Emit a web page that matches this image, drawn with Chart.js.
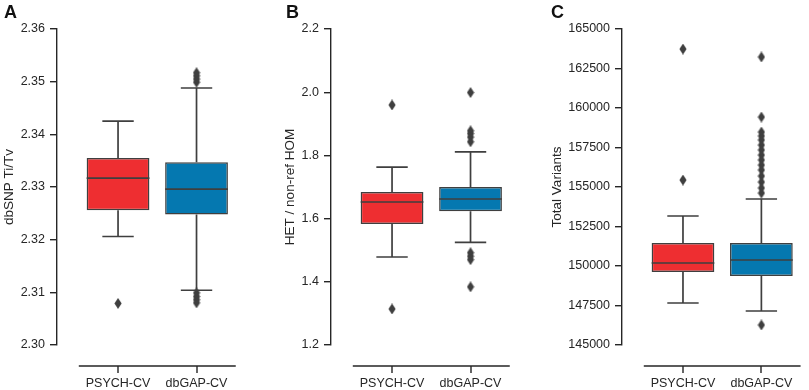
<!DOCTYPE html>
<html><head><meta charset="utf-8">
<script src="https://cdn.jsdelivr.net/npm/chart.js@4.4.1/dist/chart.umd.min.js"></script>
<style>
html,body{margin:0;padding:0;background:#fff;overflow:hidden;width:809px;height:390px;}
.panel{position:absolute;top:0;}
</style></head><body>
<div class="panel" id="pA"><canvas id="cA"></canvas></div>
<div class="panel" id="pB"><canvas id="cB"></canvas></div>
<div class="panel" id="pC"><canvas id="cC"></canvas></div>
<script>
// ---------------- DATA ----------------
const groups = ['PSYCH-CV', 'dbGAP-CV'];

// Panel A: dbSNP Ti/Tv
const titvTicks = [2.30, 2.31, 2.32, 2.33, 2.34, 2.35, 2.36];
const titvQ1  = [2.3256, 2.3248];
const titvMed = [2.3317, 2.3296];
const titvQ3  = [2.3355, 2.3347];
const titvLo  = [2.3206, 2.3104];
const titvHi  = [2.3425, 2.3488];
const titvOutPsych = [2.3079];
const titvOutDbgap = [2.3499, 2.3505, 2.3511, 2.3517, 2.3099, 2.3092, 2.3086, 2.3080];

// Panel B: HET / non-ref HOM
const hetTicks = [1.2, 1.4, 1.6, 1.8, 2.0, 2.2];
const hetQ1  = [1.583, 1.623];
const hetMed = [1.6525, 1.662];
const hetQ3  = [1.684, 1.700];
const hetLo  = [1.4785, 1.525];
const hetHi  = [1.763, 1.811];
const hetOutPsych = [1.9595, 1.314];
const hetOutDbgap = [1.999, 1.878, 1.869, 1.858, 1.843, 1.492, 1.481, 1.470, 1.384];

// Panel C: Total Variants
const totTicks = [145000, 147500, 150000, 152500, 155000, 157500, 160000, 162500, 165000];
const totQ1  = [149620, 149367];
const totMed = [150190, 150380];
const totQ3  = [151456, 151456];
const totLo  = [147658, 147152];
const totHi  = [153165, 154240];
const totOutPsych = [163734, 155443];
const totOutDbgap = [163228, 159430, 158481, 158228, 157975, 157658, 157342, 157025,
                     156709, 156392, 156076, 155696, 155316, 154937, 154620, 146266];

// ---------------- STYLE ----------------
const FONT = "'Liberation Sans', Arial, Helvetica, sans-serif";
const TEXT = '#262626';
const LINE = '#3f3f3f';
const AXIS = '#262626';
const FILLS = ['#ee2e31', '#0578b0'];
const UNIT = 81;            // px per category
const FIRST_OFF = 63;       // px from y spine to first category
const X_SPINE_OFF = 21;     // px the x spine sits below the plot
const TICK_LEN = 7;
const BOX_W = 0.8;

// thin diamond marker
function diamond() {
  const c = document.createElement('canvas');
  c.width = 8; c.height = 11;
  const g = c.getContext('2d');
  g.fillStyle = LINE;
  g.beginPath();
  g.moveTo(4, 0); g.lineTo(7.6, 5.5); g.lineTo(4, 11); g.lineTo(0.4, 5.5);
  g.closePath(); g.fill();
  return c;
}
const DIAM = diamond();

const spinePlugin = {
  id: 'spines',
  afterDraw(chart, args, o) {
    const { ctx, chartArea, scales: { x } } = chart;
    const yS = chartArea.bottom + X_SPINE_OFF;
    ctx.save();
    ctx.strokeStyle = AXIS;
    ctx.lineWidth = 1.4;
    ctx.beginPath();
    ctx.moveTo(x.getPixelForValue(-0.5), yS);
    ctx.lineTo(x.getPixelForValue(groups.length - 0.5), yS);
    x.ticks.forEach(t => {
      const px = Math.round(x.getPixelForValue(t.value));
      ctx.moveTo(px, yS);
      ctx.lineTo(px, yS + TICK_LEN);
    });
    ctx.stroke();
    ctx.fillStyle = '#111';
    ctx.font = 'bold 18px ' + FONT;
    ctx.textBaseline = 'alphabetic';
    ctx.fillText(o.letter, o.letterX, 18);
    ctx.restore();
  }
};

function makePanel(cfg) {
  const holder = document.getElementById(cfg.holder);
  holder.style.left = cfg.left + 'px';
  const canvas = document.getElementById(cfg.canvas);
  const width = cfg.yW + cfg.cw;
  canvas.width = width; canvas.height = 390;
  canvas.style.width = width + 'px'; canvas.style.height = '390px';

  const lo = cfg.ticks[0], hi = cfg.ticks[cfg.ticks.length - 1];
  const xMin = -FIRST_OFF / UNIT;
  const xMax = xMin + cfg.cw / UNIT;

  const n = groups.length;
  const boxes = groups.map((g, i) => ({ x: i, y: [cfg.q1[i], cfg.q3[i]] }));
  const medians = [], whiskers = [];
  for (let i = 0; i < n; i++) {
    medians.push({ x: i - BOX_W / 2, y: cfg.med[i] }, { x: i + BOX_W / 2, y: cfg.med[i] }, { x: i, y: null });
    whiskers.push({ x: i, y: cfg.q3[i] }, { x: i, y: cfg.hi[i] }, { x: i, y: null });
    whiskers.push({ x: i, y: cfg.q1[i] }, { x: i, y: cfg.lo[i] }, { x: i, y: null });
    whiskers.push({ x: i - BOX_W / 4, y: cfg.hi[i] }, { x: i + BOX_W / 4, y: cfg.hi[i] }, { x: i, y: null });
    whiskers.push({ x: i - BOX_W / 4, y: cfg.lo[i] }, { x: i + BOX_W / 4, y: cfg.lo[i] }, { x: i, y: null });
  }
  const outliers = [];
  cfg.outs.forEach((arr, i) => arr.forEach(v => outliers.push({ x: i, y: v })));

  new Chart(canvas, {
    data: {
      datasets: [
        { type: 'line', data: whiskers, borderColor: LINE, borderWidth: 1.7, pointRadius: 0,
          fill: false, spanGaps: false, order: 4 },
        { type: 'bar', data: boxes, backgroundColor: FILLS, borderColor: LINE, borderWidth: 1.5,
          borderSkipped: false, barPercentage: BOX_W, categoryPercentage: 1.0, order: 3 },
        { type: 'line', data: medians, borderColor: LINE, borderWidth: 1.7, pointRadius: 0,
          fill: false, spanGaps: false, order: 2 },
        { type: 'scatter', data: outliers, pointStyle: DIAM, pointRadius: 5, order: 1 }
      ]
    },
    options: {
      responsive: false,
      animation: false,
      events: [],
      layout: { padding: { top: 29, left: 0, right: 0, bottom: 0 } },
      plugins: {
        legend: { display: false }, tooltip: { enabled: false },
        spines: { letter: cfg.letter, letterX: cfg.letterX - cfg.left }
      },
      scales: {
        x: {
          type: 'linear', min: xMin, max: xMax, offset: false,
          afterBuildTicks: s => { s.ticks = groups.map((g, i) => ({ value: i })); },
          afterFit: s => { s.height = 390 - 345; },
          ticks: { callback: v => groups[v] ?? '', color: TEXT, font: { family: FONT, size: 12.5 },
                   padding: 3, maxRotation: 0, autoSkip: false },
          grid: { display: true, drawOnChartArea: false, drawTicks: true,
                  tickLength: X_SPINE_OFF + TICK_LEN, color: 'rgba(0,0,0,0)', offset: false },
          border: { display: false }
        },
        y: {
          type: 'linear', min: lo, max: hi,
          afterBuildTicks: s => { s.ticks = cfg.ticks.map(v => ({ value: v })); },
          afterFit: s => { s.width = cfg.yW; },
          ticks: { callback: v => v.toFixed(cfg.dec), color: TEXT, font: { family: FONT, size: 12.5 },
                   padding: 5, autoSkip: false },
          grid: { display: true, drawOnChartArea: false, drawTicks: true, tickLength: TICK_LEN,
                  color: AXIS, lineWidth: 1.4 },
          border: { display: true, color: AXIS, width: 1.4 },
          title: { display: true, text: cfg.title, color: TEXT, font: { family: FONT, size: 13.5 },
                   padding: { top: 1, bottom: 0 } }
        }
      }
    },
    plugins: [spinePlugin]
  });
}

makePanel({ holder: 'pA', canvas: 'cA', left: 0, yW: 57, cw: 193, letter: 'A', letterX: 4,
  title: 'dbSNP Ti/Tv', ticks: titvTicks, dec: 2,
  q1: titvQ1, med: titvMed, q3: titvQ3, lo: titvLo, hi: titvHi, outs: [titvOutPsych, titvOutDbgap] });
makePanel({ holder: 'pB', canvas: 'cB', left: 281, yW: 50, cw: 193, letter: 'B', letterX: 286,
  title: 'HET / non-ref HOM', ticks: hetTicks, dec: 1,
  q1: hetQ1, med: hetMed, q3: hetQ3, lo: hetLo, hi: hetHi, outs: [hetOutPsych, hetOutDbgap] });
makePanel({ holder: 'pC', canvas: 'cC', left: 548, yW: 74, cw: 187, letter: 'C', letterX: 551,
  title: 'Total Variants', ticks: totTicks, dec: 0,
  q1: totQ1, med: totMed, q3: totQ3, lo: totLo, hi: totHi, outs: [totOutPsych, totOutDbgap] });
</script>
</body></html>
